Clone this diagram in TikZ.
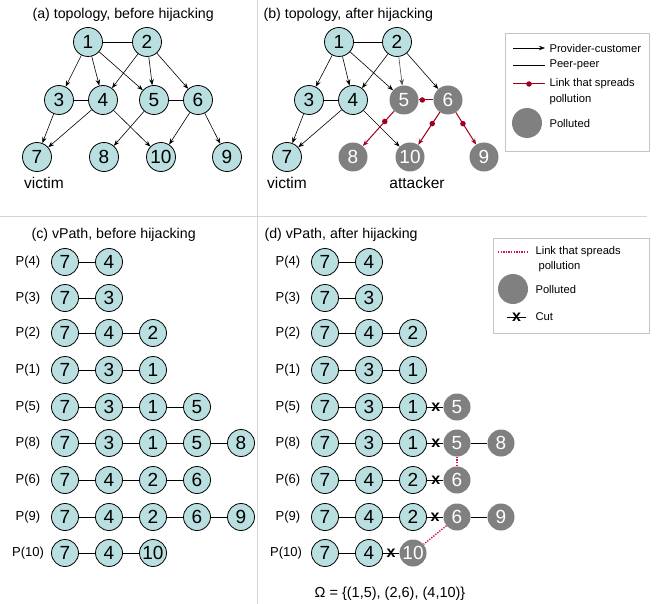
\documentclass[tikz,border=0pt]{standalone}
\usepackage{fontspec}
\setmainfont{Liberation Sans}
\usetikzlibrary{arrows.meta}
\definecolor{nodecyan}{HTML}{BADFE0}
\definecolor{pgray}{HTML}{808080}
\definecolor{pred}{HTML}{A0001E}
\definecolor{dred}{HTML}{D81040}
\definecolor{divgray}{HTML}{D4D4D4}
\definecolor{boxgray}{HTML}{C4C4C4}
\begin{document}
\begin{tikzpicture}[x=1pt,y=-1pt,
  as/.style={circle,draw=black,line width=0.8pt,fill=nodecyan,minimum size=29pt,inner sep=0pt,font=\fontsize{19}{19}\selectfont},
  pol/.style={circle,fill=pgray,text=white,minimum size=29pt,inner sep=0pt,font=\fontsize{19}{19}\selectfont},
  vs/.style={as,minimum size=27pt},
  vp/.style={pol,minimum size=27pt},
  pc/.style={-{Stealth[length=6pt,width=4.5pt]},line width=0.6pt},
  pp/.style={line width=0.6pt},
  rl/.style={draw=pred,line width=1pt,-{Stealth[length=6pt,width=4.5pt]}},
  rdot/.style={circle,fill=pred,inner sep=0pt,minimum size=5.5pt},
  pdot/.style={draw=dred,line width=1.4pt,dash pattern=on 1.3pt off 1.3pt},
  title/.style={anchor=west,font=\fontsize{14.2}{16}\selectfont},
  lbl/.style={font=\fontsize{15.5}{17}\selectfont},
  plab/.style={font=\fontsize{13}{15}\selectfont},
  legtext/.style={anchor=west,font=\fontsize{11.2}{13}\selectfont},
  cutx/.style={font=\bfseries\fontsize{16}{16}\selectfont,inner sep=0pt},
  vline/.style={line width=0.7pt}
]
\useasboundingbox (0,0) rectangle (658,604);
\fill[white] (0,0) rectangle (658,604);
% dividers
\draw[divgray,line width=1pt] (257,0) -- (257,604);
\draw[divgray,line width=1pt] (0,216) -- (647,216);

% ---------- (a) ----------
\node[title] (ta) at (29,15) {(a) topology, before hijacking};
\node[as] (a1) at (88,42) {1};
\node[as] (a2) at (147,42) {2};
\node[as] (a3) at (59,100) {3};
\node[as] (a4) at (103,100) {4};
\node[as] (a5) at (154,100) {5};
\node[as] (a6) at (198,100) {6};
\node[as] (a7) at (37,157) {7};
\node[as] (a8) at (104,157) {8};
\node[as] (a10) at (161,157) {10};
\node[as] (a9) at (227,157) {9};
\node[lbl] (va) at (44,183) {victim};
\draw[pp] (a1) -- (a2);
\draw[pp] (a3) -- (a4);
\draw[pp] (a5) -- (a6);
\draw[pc] (a1) -- (a3);
\draw[pc] (a1) -- (a4);
\draw[pc] (a1) -- (a5);
\draw[pc] (a2) -- (a4);
\draw[pc] (a2) -- (a5);
\draw[pc] (a2) -- (a6);
\draw[pc] (a3) -- (a7);
\draw[pc] (a4) -- (a7);
\draw[pc] (a4) -- (a10);
\draw[pc] (a5) -- (a8);
\draw[pc] (a6) -- (a10);
\draw[pc] (a6) -- (a9);

% ---------- (b) ----------
\node[title] (tb) at (260,15) {(b) topology, after hijacking};
\node[as] (b1) at (339,42) {1};
\node[as] (b2) at (397,42) {2};
\node[as] (b3) at (309,100) {3};
\node[as] (b4) at (353,100) {4};
\node[pol] (b5) at (404,100) {5};
\node[pol] (b6) at (448,100) {6};
\node[as] (b7) at (287,157) {7};
\node[pol] (b8) at (353,157) {8};
\node[pol] (b10) at (410,157) {10};
\node[pol] (b9) at (484,157) {9};
\node[lbl] (vb) at (287,183) {victim};
\node[lbl] (atk) at (417,183) {attacker};
\draw[pp] (b1) -- (b2);
\draw[pp] (b3) -- (b4);
\draw[pc] (b1) -- (b3);
\draw[pc] (b1) -- (b4);
\draw[pc] (b1) -- (b5);
\draw[pc] (b2) -- (b4);
\draw[pc,draw=black!70,-{Stealth[length=6pt,width=4.5pt]}] (b2) -- (b5);
\draw[pc] (b2) -- (b6);
\draw[pc] (b3) -- (b7);
\draw[pc] (b4) -- (b7);
\draw[pc] (b4) -- (b10);
\draw[draw=pred,line width=1pt] (b6) -- node[rdot,pos=0.75]{} (b5);
\draw[rl] (b5) -- node[rdot,pos=0.3]{} (b8);
\draw[rl] (b6) -- node[rdot,pos=0.35]{} (b10);
\draw[rl] (b6) -- node[rdot,pos=0.35]{} (b9);

% legend 1
\draw[boxgray,line width=0.8pt] (505,33) rectangle (649,151);
\coordinate (l1a) at (513,48); \coordinate (l1b) at (545,48);
\draw[pc] (l1a) -- (l1b);
\node[legtext] (l1t) at (546,48) {Provider-customer};
\coordinate (l2a) at (513,65); \coordinate (l2b) at (545,65);
\draw[pp] (l2a) -- (l2b);
\node[legtext] (l2t) at (546,65) {Peer-peer};
\coordinate (l3a) at (513,84); \coordinate (l3b) at (545,84);
\draw[draw=pred,line width=1pt] (l3a) -- node[rdot]{} (l3b);
\node[legtext] (l3t) at (546,84) {Link that spreads};
\node[legtext] (l3u) at (546,100) {pollution};
\node[pol,minimum size=30pt] (l4c) at (527,123) {};
\node[legtext] (l4t) at (546,123) {Polluted};

% ---------- (c) ----------
\node[title] (tc) at (28,235) {(c) vPath, before hijacking};
\foreach \yy/\lab/\seq [count=\r] in {262/4/{7,4},298/3/{7,3},333/2/{7,4,2},370/1/{7,3,1},407/5/{7,3,1,5},443/8/{7,3,1,5,8},480/6/{7,4,2,6},517/9/{7,4,2,6,9},553/10/{7,4,10}}{
  \node[plab] (cl\r) at (28,\yy) {P(\lab)};
  \foreach \v [count=\i] in \seq {
    \node[vs] (c\r-\i) at ({65+44*(\i-1)},\yy) {\v};
    \ifnum\i>1
      \pgfmathtruncatemacro\j{\i-1}
      \draw[vline] (c\r-\j) -- (c\r-\i);
    \fi
  }
}

% ---------- (d) ----------
\node[title] (td) at (261,235) {(d) vPath, after hijacking};
\foreach \yy/\lab/\seq [count=\r] in {262/4/{7,4},298/3/{7,3},333/2/{7,4,2},370/1/{7,3,1}}{
  \node[plab] (dl\r) at (288,\yy) {P(\lab)};
  \foreach \v [count=\i] in \seq {
    \node[vs] (d\r-\i) at ({325+44*(\i-1)},\yy) {\v};
    \ifnum\i>1
      \pgfmathtruncatemacro\j{\i-1}
      \draw[vline] (d\r-\j) -- (d\r-\i);
    \fi
  }
}
% P(5)
\node[plab] (dl5) at (288,407) {P(5)};
\node[vs] (d5-1) at (325,407) {7};
\node[vs] (d5-2) at (369,407) {3};
\node[vs] (d5-3) at (413,407) {1};
\node[vp] (d5-4) at (457,407) {5};
\draw[vline] (d5-1) -- (d5-2);
\draw[vline] (d5-2) -- (d5-3);
\draw[vline] (d5-3) -- node[cutx,pos=0.55]{x} (d5-4);
% P(8)
\node[plab] (dl6) at (288,443) {P(8)};
\node[vs] (d6-1) at (325,443) {7};
\node[vs] (d6-2) at (369,443) {3};
\node[vs] (d6-3) at (413,443) {1};
\node[vp] (d6-4) at (457,443) {5};
\node[vp] (d6-5) at (501,443) {8};
\draw[vline] (d6-1) -- (d6-2);
\draw[vline] (d6-2) -- (d6-3);
\draw[vline] (d6-3) -- node[cutx,pos=0.55]{x} (d6-4);
\draw[vline] (d6-4) -- (d6-5);
% P(6)
\node[plab] (dl7) at (288,480) {P(6)};
\node[vs] (d7-1) at (325,480) {7};
\node[vs] (d7-2) at (369,480) {4};
\node[vs] (d7-3) at (413,480) {2};
\node[vp] (d7-4) at (457,480) {6};
\draw[vline] (d7-1) -- (d7-2);
\draw[vline] (d7-2) -- (d7-3);
\draw[vline] (d7-3) -- node[cutx,pos=0.55]{x} (d7-4);
% P(9)
\node[plab] (dl8) at (288,517) {P(9)};
\node[vs] (d8-1) at (325,517) {7};
\node[vs] (d8-2) at (369,517) {4};
\node[vs] (d8-3) at (413,517) {2};
\node[vp] (d8-4) at (457,517) {6};
\node[vp] (d8-5) at (501,517) {9};
\draw[vline] (d8-1) -- (d8-2);
\draw[vline] (d8-2) -- (d8-3);
\draw[vline] (d8-3) -- node[cutx,pos=0.5]{x} (d8-4);
\draw[vline] (d8-4) -- (d8-5);
% P(10)
\node[plab] (dl9) at (286,553) {P(10)};
\node[vs] (d9-1) at (325,553) {7};
\node[vs] (d9-2) at (369,553) {4};
\node[vp] (d9-3) at (413,553) {10};
\draw[vline] (d9-1) -- (d9-2);
\draw[vline] (d9-2) -- node[cutx,pos=0.5]{x} (d9-3);
% pollution spread (dotted)
\draw[pdot] (d6-4) -- (d7-4);
\draw[pdot] (d8-4) -- (d9-3);
% omega
\node[font=\fontsize{14.5}{16}\selectfont] (om) at (390,594) {Ω = \{(1,5), (2,6), (4,10)\}};

% legend 2
\draw[boxgray,line width=0.8pt] (493,238) rectangle (649,333);
\coordinate (m1a) at (498,252); \coordinate (m1b) at (527,252);
\draw[pdot] (m1a) -- (m1b);
\node[legtext] (m1t) at (532,252) {Link that spreads};
\node[legtext] (m1u) at (535,267) {pollution};
\node[pol,minimum size=30pt] (m2c) at (513,289) {};
\node[legtext] (m2t) at (532,289) {Polluted};
\coordinate (m3a) at (507,317); \coordinate (m3b) at (526,317);
\draw[vline] (m3a) -- node[cutx]{x} (m3b);
\node[legtext] (m3t) at (532,317) {Cut};
\end{tikzpicture}
\end{document}
